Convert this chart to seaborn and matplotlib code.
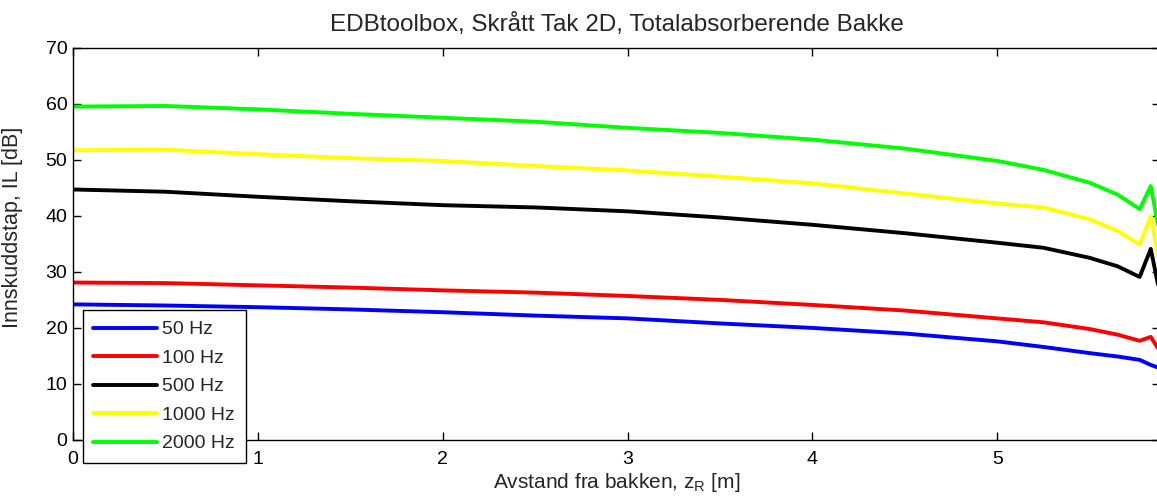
import pandas as pd
import matplotlib
matplotlib.use("Agg")
import matplotlib.pyplot as plt
import seaborn as sns

# receiver height above ground [m]
z_r = [0, 0.5, 1.0, 1.5, 2.0, 2.5, 3.0, 3.5, 4.0, 4.5, 5.0, 5.25, 5.5, 5.65, 5.77, 5.83, 5.88]

# insertion loss [dB] per frequency
il_50 = [24.2, 24.0, 23.7, 23.3, 22.8, 22.2, 21.7, 20.8, 20.0, 19.0, 17.6, 16.6, 15.5, 14.9, 14.3, 13.4, 12.8]
il_100 = [28.1, 28.0, 27.6, 27.2, 26.7, 26.3, 25.7, 25.0, 24.1, 23.1, 21.7, 21.0, 19.8, 18.8, 17.7, 18.4, 15.8]
il_500 = [44.7, 44.3, 43.4, 42.6, 41.9, 41.5, 40.8, 39.7, 38.4, 36.9, 35.2, 34.3, 32.5, 31.0, 29.1, 34.1, 26.0]
il_1000 = [51.7, 51.8, 51.0, 50.3, 49.8, 48.9, 48.1, 47.0, 45.8, 44.0, 42.2, 41.5, 39.4, 37.3, 34.9, 39.9, 31.0]
il_2000 = [59.5, 59.6, 59.0, 58.2, 57.5, 56.8, 55.7, 54.8, 53.6, 52.0, 49.8, 48.2, 45.9, 43.8, 41.2, 45.3, 36.5]

labels = ["50 Hz", "100 Hz", "500 Hz", "1000 Hz", "2000 Hz"]
colors = ["#0000ff", "#ff0000", "#000000", "#ffff00", "#00ff00"]

series = [il_50, il_100, il_500, il_1000, il_2000]
df = pd.concat(
    [pd.DataFrame({"z": z_r, "IL": s, "freq": lab}) for s, lab in zip(series, labels)],
    ignore_index=True,
)

sns.set_style("ticks")
plt.rcParams["font.family"] = ["Liberation Sans", "DejaVu Sans"]

fig = plt.figure(figsize=(11.57, 5), dpi=100)
ax = fig.add_axes([73 / 1157, 1 - 440 / 500, (1160 - 73) / 1157, (440 - 47.7) / 500])

sns.lineplot(data=df, x="z", y="IL", hue="freq", hue_order=labels,
             palette=dict(zip(labels, colors)), linewidth=2.8,
             estimator=None, sort=False, ax=ax)

ax.set_xlim(0, 5.88)
ax.set_ylim(0, 70)
ax.set_xticks([0, 1, 2, 3, 4, 5])
ax.set_yticks(range(0, 71, 10))
ax.tick_params(direction="in", top=True, right=True, length=6, width=1,
               labelsize=14, colors="black", pad=4)
ax.tick_params(axis="x", pad=8)
for sp in ax.spines.values():
    sp.set_visible(True)
    sp.set_color("black")
    sp.set_linewidth(1)

ax.set_title("EDBtoolbox, Skrått Tak 2D, Totalabsorberende Bakke", fontsize=17.5, y=1.043, pad=0)
ax.set_xlabel("Avstand fra bakken, z$_\\mathregular{R}$ [m]", fontsize=15, labelpad=2)
ax.set_ylabel("Innskuddstap, IL [dB]", fontsize=15.5)
ax.yaxis.set_label_coords(-0.046, 0.543)

handles, labs = ax.get_legend_handles_labels()
leg = ax.legend(handles, labs, loc="upper left",
                bbox_to_anchor=(82.7 / 1157, 1 - 310 / 500), bbox_transform=fig.transFigure,
                fontsize=14, frameon=True, fancybox=False, framealpha=1,
                edgecolor="black", handlelength=3.25, handletextpad=0.3,
                labelspacing=0.56, borderpad=0.55, borderaxespad=0)
leg.get_frame().set_linewidth(1)

fig.savefig("out.png", dpi=100)
